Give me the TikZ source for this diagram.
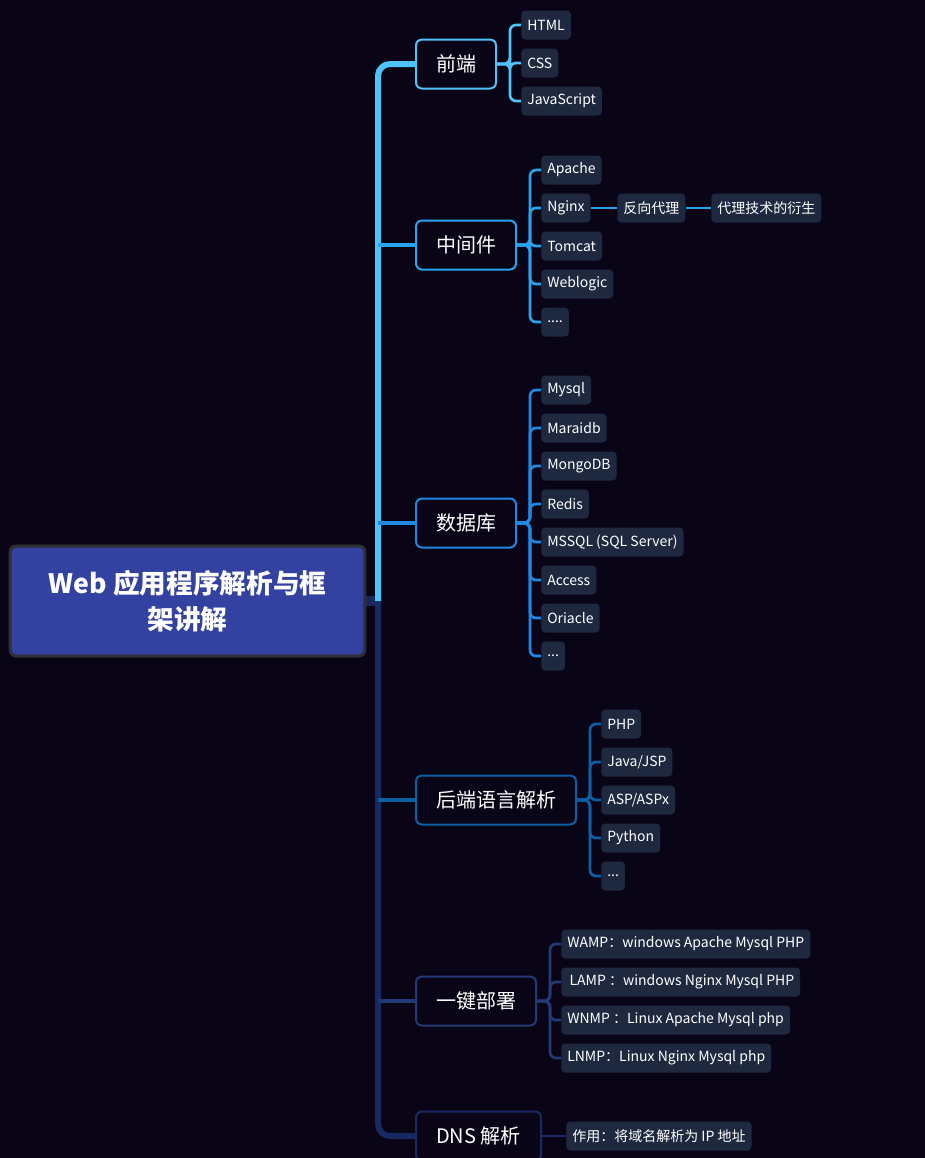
\documentclass[tikz,border=0pt]{standalone}
\usepackage{fontspec}
\setmainfont{Noto Sans CJK SC}
\usetikzlibrary{backgrounds}
\definecolor{bgC}{RGB}{9,5,22}
\definecolor{leafC}{RGB}{30,41,64}
\definecolor{rootC}{RGB}{51,65,161}
\definecolor{rootB}{RGB}{48,48,52}
\definecolor{cA}{RGB}{79,195,247}
\definecolor{cB}{RGB}{41,163,238}
\definecolor{cC}{RGB}{30,136,229}
\definecolor{cD}{RGB}{12,95,165}
\definecolor{cE}{RGB}{35,58,120}
\definecolor{cF}{RGB}{26,42,100}
\definecolor{trunkLow}{RGB}{24,40,96}
\begin{document}
\begin{tikzpicture}[x=0.75pt,y=-0.75pt,
  leaf/.style={fill=leafC, rounded corners=3pt, text=white,
    font=\fontsize{10.5}{12}\selectfont, inner xsep=4.5pt, inner ysep=0pt,
    minimum height=21.75pt, anchor=west},
  lvone/.style={draw=#1, line width=1.5pt, rounded corners=4.5pt, fill=bgC,
    text=white, font=\fontsize{15}{18}\selectfont, minimum height=36.75pt,
    anchor=west, inner sep=0pt},
  conn/.style={draw=#1, line width=2pt, rounded corners=4.5pt},
  rootnode/.style={fill=rootC, draw=rootB, line width=2.25pt, rounded corners=4.5pt,
    text=white, font=\fontsize{20}{27}\selectfont\bfseries, align=center,
    minimum width=266pt, minimum height=82.5pt, inner sep=0pt}]

\useasboundingbox (0,0) rectangle (925,1158);

% root
\node[rootnode] (root) at (187.5,601) {Web 应用程序解析与框\\架讲解};

% level one
\node[lvone=cA, minimum width=60pt] (fe) at (415,64) {前端};
\node[lvone=cB, minimum width=75pt] (mw) at (415,245) {中间件};
\node[lvone=cC, minimum width=75pt] (db) at (415,523) {数据库};
\node[lvone=cD, minimum width=120pt] (be) at (415,800) {后端语言解析};
\node[lvone=cE, minimum width=90pt] (dp) at (415,1001) {一键部署};
\node[lvone=cF, minimum width=93.75pt] (dns) at (415,1136) {DNS 解析};

% front end
\node[leaf] (html) at (521,25) {HTML};
\node[leaf] (css) at (521,63) {CSS};
\node[leaf] (js) at (521,101) {JavaScript};

% middleware
\node[leaf] (apache) at (541,170) {Apache};
\node[leaf] (nginx) at (541,208) {Nginx};
\node[leaf] (tomcat) at (541,246) {Tomcat};
\node[leaf] (weblogic) at (541,284) {Weblogic};
\node[leaf] (mwdots) at (541,322) {....};
\node[leaf] (rp) at (617,208) {反向代理};
\node[leaf] (rpd) at (711,208) {代理技术的衍生};

% databases
\node[leaf] (mysql) at (541,390) {Mysql};
\node[leaf] (maria) at (541,428) {Maraidb};
\node[leaf] (mongo) at (541,466) {MongoDB};
\node[leaf] (redis) at (541,504) {Redis};
\node[leaf] (mssql) at (541,542) {MSSQL (SQL Server)};
\node[leaf] (access) at (541,580) {Access};
\node[leaf] (oracle) at (541,618) {Oriacle};
\node[leaf] (dbdots) at (541,656) {...};

% backend
\node[leaf] (php) at (601,724) {PHP};
\node[leaf] (jsp) at (601,762) {Java/JSP};
\node[leaf] (asp) at (601,800) {ASP/ASPx};
\node[leaf] (py) at (601,838) {Python};
\node[leaf] (bedots) at (601,876) {...};

% deploy
\node[leaf] (wamp) at (561,944) {WAMP：windows Apache Mysql PHP};
\node[leaf] (lamp) at (561,982) {\,LAMP ：windows Nginx Mysql PHP};
\node[leaf] (wnmp) at (561,1020) {WNMP ：Linux Apache Mysql php};
\node[leaf] (lnmp) at (561,1058) {LNMP：Linux Nginx Mysql php};

% dns
\node[leaf] (dnsr) at (566,1136) {作用：将域名解析为 IP 地址};

\begin{scope}[on background layer]
  \fill[bgC] (0,0) rectangle (925,1158);
  % trunk
  \draw[trunkLow, line width=7.5pt] (root.east) -- (380,601);
  \draw[trunkLow, line width=4.5pt, rounded corners=9pt] (378,601) -- (378,1136) -- (dns.west);
  \draw[cA, line width=4.5pt, rounded corners=9pt] (378,601) -- (378,64) -- (fe.west);
  \draw[cB, line width=2.5pt] (378,245) -- (mw.west);
  \draw[cC, line width=2.5pt] (378,523) -- (db.west);
  \draw[cD, line width=2.5pt] (378,800) -- (be.west);
  \draw[cE, line width=2.5pt] (378,1001) -- (dp.west);
  % level two
  \foreach \n in {html,css,js} \draw[conn=cA] (fe.east) -- ++(13,0) |- (\n.west);
  \foreach \n in {apache,nginx,tomcat,weblogic,mwdots} \draw[conn=cB] (mw.east) -- ++(13,0) |- (\n.west);
  \draw[conn=cB] (nginx.east) -- (rp.west);
  \draw[conn=cB] (rp.east) -- (rpd.west);
  \foreach \n in {mysql,maria,mongo,redis,mssql,access,oracle,dbdots} \draw[conn=cC] (db.east) -- ++(13,0) |- (\n.west);
  \foreach \n in {php,jsp,asp,py,bedots} \draw[conn=cD] (be.east) -- ++(13,0) |- (\n.west);
  \foreach \n in {wamp,lamp,wnmp,lnmp} \draw[conn=cE] (dp.east) -- ++(13,0) |- (\n.west);
  \draw[conn=cF] (dns.east) -- (dnsr.west);
\end{scope}
\end{tikzpicture}
\end{document}
